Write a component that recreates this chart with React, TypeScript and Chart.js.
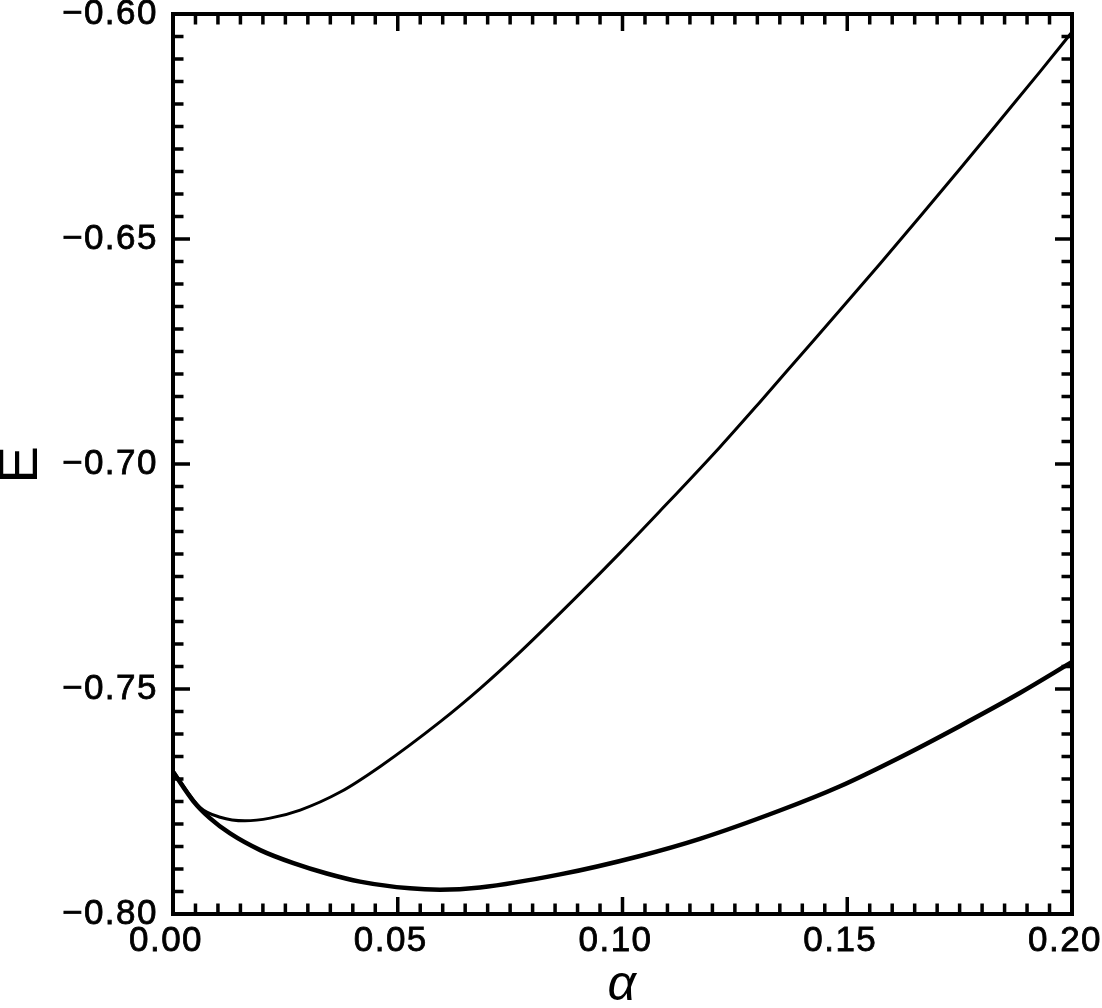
import React, { useEffect, useRef } from 'react';
import { Chart, registerables } from 'chart.js';

Chart.register(...registerables);

// Upper (thin) branch
const upperAlpha = [0, 0.006, 0.0105, 0.016, 0.0216, 0.0283, 0.0372, 0.0461, 0.0594, 0.0683, 0.0772, 0.0905, 0.0994, 0.1083, 0.1217, 0.1306, 0.1395, 0.1484, 0.1573, 0.1662, 0.1751, 0.184, 0.1929, 0.2];
const upperEnergy = [-0.7682, -0.7763, -0.7785, -0.7793, -0.7787, -0.7769, -0.7729, -0.7672, -0.7573, -0.7499, -0.7418, -0.7288, -0.7198, -0.7105, -0.6962, -0.6862, -0.676, -0.6658, -0.6555, -0.645, -0.6344, -0.6236, -0.6128, -0.604];

// Lower (thick) branch
const lowerAlpha = [0, 0.0045, 0.0082, 0.0127, 0.0194, 0.0268, 0.0342, 0.0416, 0.0527, 0.0594, 0.0683, 0.0861, 0.1039, 0.1172, 0.135, 0.1484, 0.1617, 0.1751, 0.1884, 0.2];
const lowerEnergy = [-0.7684, -0.7749, -0.7787, -0.7821, -0.7858, -0.7887, -0.791, -0.7928, -0.7943, -0.7946, -0.7941, -0.7912, -0.7871, -0.7833, -0.777, -0.7716, -0.7652, -0.7582, -0.7509, -0.744];

const xTickValues = [0, 0.05, 0.1, 0.15, 0.2];
const xTickLabels = ['0.00', '0.05', '0.10', '0.15', '0.20'];
const yTickValues = [-0.8, -0.75, -0.7, -0.65, -0.6];
const yTickLabels = ['\u22120.80', '\u22120.75', '\u22120.70', '\u22120.65', '\u22120.60'];
const minorPerMajor = 10;

const xTitle = '\u03B1';
const yTitle = 'E';

const LABEL_FONT = "'Liberation Sans', Arial, Helvetica, sans-serif";

const spacingPlugin = {
  id: 'spacing',
  beforeLayout(chart: any) {
    chart.ctx.letterSpacing = '1.5px';
  },
  beforeDraw(chart: any) {
    chart.ctx.letterSpacing = '1.5px';
  },
};

const framePlugin = {
  id: 'frameTicks',
  afterDatasetsDraw(chart: any) {
    const { ctx, chartArea: a, scales } = chart;
    const xs = scales.x;
    const ys = scales.y;
    const majorLen = 17;
    const minorLen = 10.5;
    ctx.save();
    ctx.strokeStyle = '#000';
    ctx.lineCap = 'butt';
    ctx.lineWidth = 3.5;
    const tickX = (v: number, len: number) => {
      const p = xs.getPixelForValue(v);
      ctx.beginPath();
      ctx.moveTo(p, a.bottom);
      ctx.lineTo(p, a.bottom - len);
      ctx.moveTo(p, a.top);
      ctx.lineTo(p, a.top + len);
      ctx.stroke();
    };
    const tickY = (v: number, len: number) => {
      const p = ys.getPixelForValue(v);
      ctx.beginPath();
      ctx.moveTo(a.left, p);
      ctx.lineTo(a.left + len, p);
      ctx.moveTo(a.right, p);
      ctx.lineTo(a.right - len, p);
      ctx.stroke();
    };
    xTickValues.forEach((v, i) => {
      tickX(v, majorLen);
      if (i < xTickValues.length - 1) {
        const nxt = xTickValues[i + 1];
        for (let k = 1; k < minorPerMajor; k++) tickX(v + ((nxt - v) * k) / minorPerMajor, minorLen);
      }
    });
    yTickValues.forEach((v, i) => {
      tickY(v, majorLen);
      if (i < yTickValues.length - 1) {
        const nxt = yTickValues[i + 1];
        for (let k = 1; k < minorPerMajor; k++) tickY(v + ((nxt - v) * k) / minorPerMajor, minorLen);
      }
    });
    ctx.lineWidth = 4;
    ctx.strokeRect(a.left, a.top, a.right - a.left, a.bottom - a.top);
    ctx.restore();
  },
};

export default function App() {
  const ref = useRef<HTMLCanvasElement | null>(null);

  useEffect(() => {
    document.body.style.margin = '0';
    const canvas = ref.current;
    if (!canvas) return;
    const chart = new Chart(canvas, {
      type: 'scatter',
      data: {
        datasets: [
          {
            data: upperAlpha.map((a, i) => ({ x: a, y: upperEnergy[i] })),
            showLine: true,
            borderColor: '#000',
            borderWidth: 3,
            pointRadius: 0,
            cubicInterpolationMode: 'monotone',
          },
          {
            data: lowerAlpha.map((a, i) => ({ x: a, y: lowerEnergy[i] })),
            showLine: true,
            borderColor: '#000',
            borderWidth: 4.5,
            pointRadius: 0,
            cubicInterpolationMode: 'monotone',
          },
        ],
      },
      options: {
        responsive: false,
        animation: false,
        devicePixelRatio: 1,
        events: [],
        layout: { padding: { top: 14, right: 30, left: 0, bottom: 0 } },
        plugins: { legend: { display: false }, tooltip: { enabled: false } },
        scales: {
          x: {
            type: 'linear',
            position: 'bottom',
            min: 0,
            max: 0.2,
            grid: { display: false, drawTicks: false },
            border: { display: false },
            afterBuildTicks: (s: any) => {
              s.ticks = xTickValues.map((v) => ({ value: v }));
            },
            afterFit: (s: any) => {
              s.height = 94;
              s.paddingLeft = 0;
              s.paddingRight = 0;
            },
            ticks: {
              autoSkip: false,
              maxRotation: 0,
              minRotation: 0,
              padding: 6.5,
              labelOffset: -7,
              color: '#000',
              textStrokeColor: '#000',
              textStrokeWidth: 0.8,
              font: { family: LABEL_FONT, size: 35, lineHeight: 1.2 },
              callback: (_v: any, i: number) => xTickLabels[i],
            },
            title: {
              display: true,
              text: xTitle,
              color: '#000',
              padding: 0,
              font: { family: LABEL_FONT, size: 50, style: 'italic', lineHeight: '44px' },
            },
          },
          y: {
            type: 'linear',
            position: 'left',
            min: -0.8,
            max: -0.6,
            grid: { display: false, drawTicks: false },
            border: { display: false },
            afterBuildTicks: (s: any) => {
              s.ticks = yTickValues.map((v) => ({ value: v }));
            },
            afterFit: (s: any) => {
              s.width = 173;
              s.paddingTop = 0;
              s.paddingBottom = 0;
            },
            ticks: {
              autoSkip: false,
              padding: 15,
              color: '#000',
              textStrokeColor: '#000',
              textStrokeWidth: 0.8,
              font: { family: LABEL_FONT, size: 35, lineHeight: 1.2 },
              callback: (_v: any, i: number) => yTickLabels[i],
            },
            title: {
              display: true,
              text: yTitle,
              color: '#000',
              padding: 0,
              font: {
                family: "'Liberation Sans Narrow', 'Liberation Sans', Arial, sans-serif",
                size: 56,
                lineHeight: '44px',
              },
            },
          },
        },
      } as any,
      plugins: [spacingPlugin, framePlugin],
    });
    return () => chart.destroy();
  }, []);

  return (
    <div style={{ width: 1102, height: 1008, background: '#fff' }}>
      <canvas ref={ref} width={1102} height={1008} style={{ display: 'block' }} />
    </div>
  );
}
